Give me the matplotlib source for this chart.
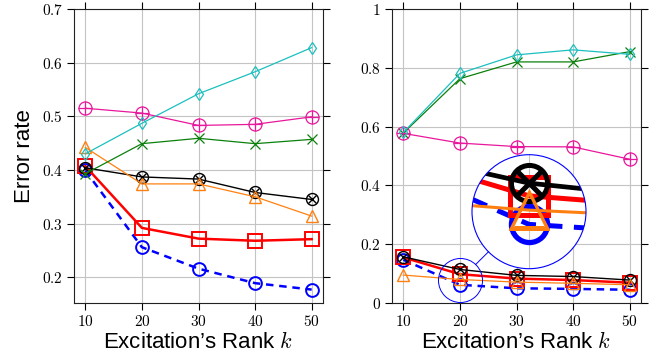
import matplotlib
matplotlib.use("Agg")
import matplotlib.pyplot as plt
from matplotlib.patches import Circle
from matplotlib.lines import Line2D
from matplotlib.ticker import FuncFormatter

plt.rcParams['mathtext.fontset'] = 'cm'
plt.rcParams['font.family'] = ['Liberation Sans', 'DejaVu Sans']

ranks = [10, 20, 30, 40, 50]

# Left panel
left_cyan = [0.430, 0.487, 0.542, 0.583, 0.628]
left_magenta = [0.515, 0.506, 0.483, 0.485, 0.499]
left_green = [0.393, 0.449, 0.459, 0.449, 0.457]
left_orange = [0.442, 0.374, 0.374, 0.350, 0.314]
left_black = [0.404, 0.387, 0.383, 0.358, 0.345]
left_red = [0.407, 0.292, 0.272, 0.268, 0.271]
left_blue = [0.399, 0.256, 0.216, 0.189, 0.177]

# Right panel
right_cyan = [0.580, 0.781, 0.844, 0.861, 0.846]
right_magenta = [0.577, 0.544, 0.532, 0.531, 0.489]
right_green = [0.578, 0.763, 0.820, 0.820, 0.855]
right_orange = [0.095, 0.080, 0.071, 0.067, 0.062]
right_black = [0.157, 0.114, 0.094, 0.090, 0.078]
right_red = [0.155, 0.098, 0.083, 0.078, 0.069]
right_blue = [0.147, 0.062, 0.050, 0.048, 0.045]

left_yticks = [0.2, 0.3, 0.4, 0.5, 0.6, 0.7]
right_yticks = [0.0, 0.2, 0.4, 0.6, 0.8, 1.0]

C_CYAN = '#1cbfbf'
C_MAG = '#e8179b'
C_GREEN = '#0b800b'
C_ORANGE = '#ff8010'
C_BLACK = 'black'
C_RED = '#ff0000'
C_BLUE = '#0000ff'

# style: (linewidth, markersize, markeredgewidth)
MAIN_STYLE = {
    'blue': (1.8, 9.2, 1.4), 'red': (1.8, 9.8, 1.4), 'black': (1.0, 8.6, 1.0),
    'orange': (0.9, 9.0, 1.0), 'green': (0.9, 7.0, 0.9),
    'magenta': (0.9, 9.4, 0.9), 'cyan': (0.9, 6.5, 0.9),
}
INSET_STYLE = {
    'blue': (3.6, 26.0, 3.8), 'red': (3.6, 27.0, 3.6), 'black': (3.4, 26.0, 3.6),
    'orange': (2.2, 26.0, 2.4), 'green': (2.2, 20.0, 2.2),
    'magenta': (2.2, 26.0, 2.2), 'cyan': (2.2, 18.0, 2.2),
}

fig = plt.figure(figsize=(6.62, 3.6), dpi=100)
W, H = 662.0, 360.0
axL = fig.add_axes([74 / W, (H - 303) / H, 249 / W, 294 / H])
axR = fig.add_axes([392 / W, (H - 303) / H, 249 / W, 294 / H])


def draw_series(ax, data, st, clip=None):
    cy, mg, gr, orr, bk, rd, bl = data
    arts = []
    lw, ms, mew = st['blue']
    arts += ax.plot(ranks, bl, color=C_BLUE, lw=lw, ls=(0, (3, 2.3)),
                    marker='o', ms=ms, mfc='none', mew=mew, zorder=3)
    lw, ms, mew = st['red']
    arts += ax.plot(ranks, rd, color=C_RED, lw=lw, marker='s', ms=ms,
                    mfc='none', mew=mew, zorder=3.1)
    lw, ms, mew = st['black']
    arts += ax.plot(ranks, bk, color=C_BLACK, lw=lw, marker='o', ms=ms,
                    mfc='none', mew=mew, zorder=3.2)
    arts += ax.plot(ranks, bk, color=C_BLACK, ls='none', marker='x', ms=ms * 0.7,
                    mew=mew, zorder=3.2)
    lw, ms, mew = st['orange']
    arts += ax.plot(ranks, orr, color=C_ORANGE, lw=lw, marker='^', ms=ms,
                    mfc='none', mew=mew, zorder=3.3)
    lw, ms, mew = st['green']
    arts += ax.plot(ranks, gr, color=C_GREEN, lw=lw, marker='x', ms=ms,
                    mew=mew, zorder=3.4)
    lw, ms, mew = st['magenta']
    arts += ax.plot(ranks, mg, color=C_MAG, lw=lw, marker='o', ms=ms,
                    mfc='none', mew=mew, zorder=3.5)
    arts += ax.plot(ranks, mg, color=C_MAG, ls='none', marker='+', ms=ms,
                    mew=mew, zorder=3.5)
    lw, ms, mew = st['cyan']
    arts += ax.plot(ranks, cy, color=C_CYAN, lw=lw, marker='d', ms=ms,
                    mfc='none', mew=mew, zorder=3.6)
    if clip is not None:
        for a in arts:
            a.set_clip_path(clip)
    return arts


fmt = FuncFormatter(lambda v, p: r'$%g$' % round(v, 3))

for ax, data, yticks, ylim in [
    (axL, (left_cyan, left_magenta, left_green, left_orange, left_black, left_red, left_blue),
     left_yticks, (0.152, 0.7)),
    (axR, (right_cyan, right_magenta, right_green, right_orange, right_black, right_red, right_blue),
     right_yticks, (0.0, 1.0)),
]:
    draw_series(ax, data, MAIN_STYLE)
    ax.set_xlim(8, 52)
    ax.set_ylim(*ylim)
    ax.set_xticks(ranks)
    ax.set_yticks(yticks)
    ax.xaxis.set_major_formatter(fmt)
    ax.yaxis.set_major_formatter(fmt)
    ax.grid(True, color='#c4c4c4', lw=0.8)
    ax.set_axisbelow(True)
    ax.tick_params(direction='out', length=5, width=0.8, top=True, right=True,
                   labelsize=11, pad=3.0, colors='black')
    for sp in ax.spines.values():
        sp.set_color('#222222')
        sp.set_linewidth(0.8)
    ax.set_xlabel('Excitation\u2019s Rank $k$', fontsize=16)
    ax.xaxis.set_label_coords(0.5, -0.099)

axL.set_ylabel('Error rate', fontsize=16)
axL.yaxis.set_label_coords(-0.155, 0.5)

# zoom inset on right panel
zc_x, zc_y = 20, 0.078
mag = 2.7
cx_px, cy_px, rad_px = 529.0, 211.7, 57.0
axI = fig.add_axes([(cx_px - rad_px) / W, (H - cy_px - rad_px) / H,
                    2 * rad_px / W, 2 * rad_px / H])
axI.axis('off')
xs = 249.0 / 44.0 * mag
ys = 294.0 / 1.0 * mag
axI.set_xlim(zc_x - rad_px / xs, zc_x + rad_px / xs)
axI.set_ylim(zc_y - rad_px / ys, zc_y + rad_px / ys)
bg = Circle((0.5, 0.5), 0.5, transform=axI.transAxes, facecolor='white',
            edgecolor='none', zorder=0)
axI.add_patch(bg)
clipc = Circle((0.5, 0.5), 0.5, transform=axI.transAxes)
g = axI.axvline(zc_x, color='#c4c4c4', lw=0.8, zorder=1)
g.set_clip_path(clipc)
draw_series(axI, (right_cyan, right_magenta, right_green, right_orange,
                  right_black, right_red, right_blue), INSET_STYLE, clip=clipc)
ring = Circle((0.5, 0.5), 0.5, transform=axI.transAxes, fill=False,
              edgecolor=C_BLUE, lw=0.8, zorder=10, clip_on=False)
axI.add_patch(ring)

# small circle on main axis
small_ms = 31.7
axR.plot([zc_x], [zc_y], marker='o', ms=small_ms, mfc='none', mec=C_BLUE,
         mew=0.7, ls='none', zorder=5)

# connector
sx, sy = axR.transData.transform((zc_x, zc_y))
bx, by = axI.transAxes.transform((0.5, 0.5))
dx, dy = bx - sx, by - sy
d = (dx ** 2 + dy ** 2) ** 0.5
ux, uy = dx / d, dy / d
r_small = small_ms / 2 * fig.dpi / 72.0
p1 = (sx + ux * r_small, sy + uy * r_small)
p2 = (bx - ux * rad_px, by - uy * rad_px)
inv = fig.transFigure.inverted()
q1 = inv.transform(p1)
q2 = inv.transform(p2)
fig.add_artist(Line2D([q1[0], q2[0]], [q1[1], q2[1]], color=C_BLUE, lw=0.7,
                      transform=fig.transFigure))

fig.savefig('out.png', dpi=100)
